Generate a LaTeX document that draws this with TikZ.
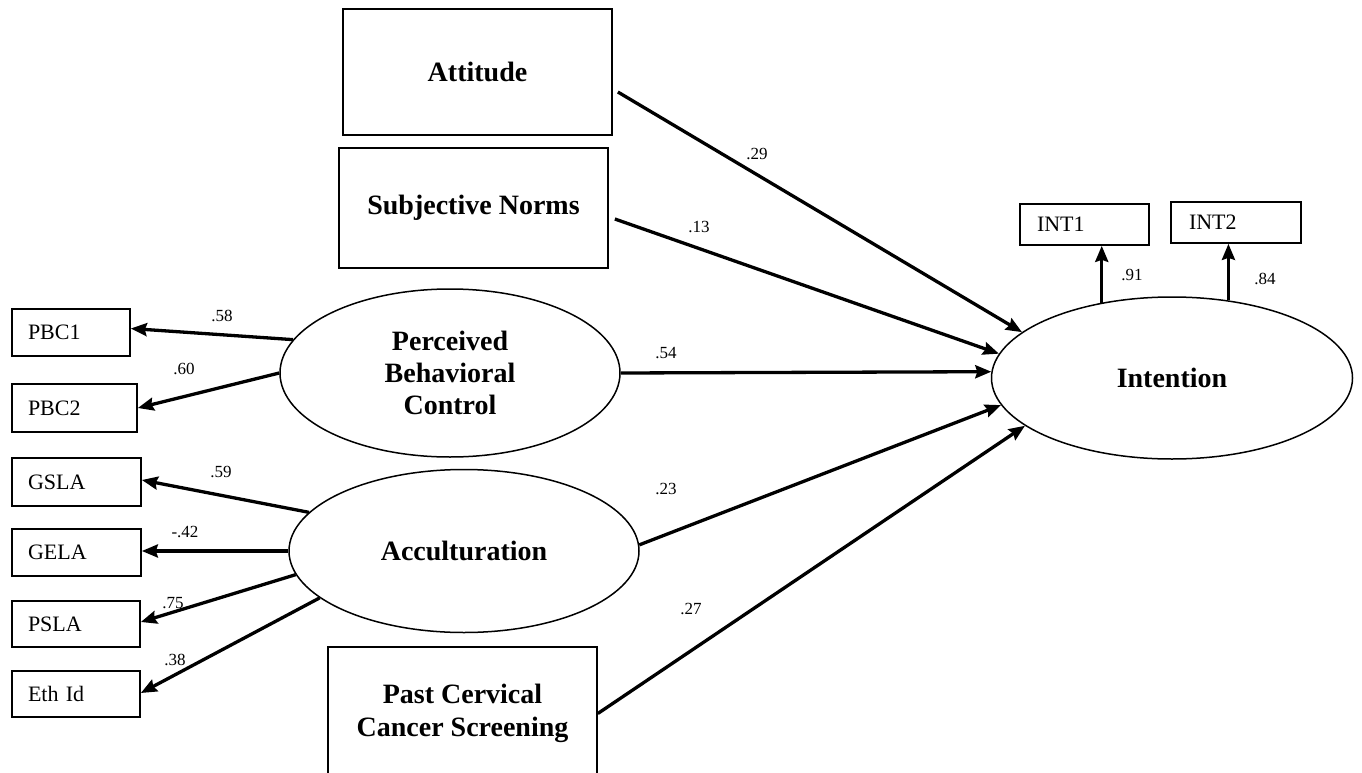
\documentclass[tikz,border=0pt]{standalone}
\usepackage{fontspec}
\setmainfont{Liberation Serif}
\usetikzlibrary{shapes.geometric,arrows.meta,calc}
\tikzset{
  bigbox/.style={draw, line width=1.7pt, rectangle, inner sep=0pt, align=center,
    minimum width=269pt, font=\fontsize{28}{33}\selectfont\bfseries},
  smallbox/.style={draw, line width=1.7pt, rectangle, inner ysep=0pt, align=left,
    font=\fontsize{22}{26}\selectfont},
  latent/.style={draw, line width=1.5pt, ellipse, inner sep=0pt, align=center,
    font=\fontsize{28}{32}\selectfont\bfseries},
  arr/.style={line width=3.3pt, -{Stealth[length=16pt,width=13pt,inset=2pt]}},
  coef/.style={inner sep=0pt, font=\fontsize{17}{20}\selectfont},
}
\begin{document}
\begin{tikzpicture}[x=1pt,y=-1pt]
\useasboundingbox (0,0) rectangle (1362,773);
\clip (0,0) rectangle (1362,773);
% top boxes
\node[bigbox, minimum height=126pt] (att) at (477.5,72) {Attitude};
\node[bigbox, minimum height=120pt] (sn) at (473.5,208) {Subjective Norms};
\node[bigbox, minimum height=133pt] (past) at (462.5,713.5) {Past Cervical\\Cancer Screening};
% latent variables
\node[latent, minimum width=340pt, minimum height=168pt] (pbc) at (450,373) {Perceived\\Behavioral\\Control};
\node[latent, minimum width=350pt, minimum height=163pt] (acc) at (464,551) {Acculturation};
\node[latent, minimum width=361pt, minimum height=162pt] (int) at (1172,378) {Intention};
% indicator boxes
\node[smallbox, inner xsep=16pt, text width=86pt, minimum height=47pt] (pbc1) at (71,332.5) {PBC1};
\node[smallbox, inner xsep=16pt, text width=93pt, minimum height=48pt] (pbc2) at (74.5,408) {PBC2};
\node[smallbox, inner xsep=16pt, text width=97pt, minimum height=48pt] (gsla) at (76.5,482) {GSLA};
\node[smallbox, inner xsep=16pt, text width=97pt, minimum height=47pt] (gela) at (76.5,552.5) {GELA};
\node[smallbox, inner xsep=16pt, text width=96pt, minimum height=46pt] (psla) at (76,624) {PSLA};
\node[smallbox, inner xsep=16pt, text width=96pt, minimum height=46pt] (eth) at (76,694) {Eth Id};
\node[smallbox, inner xsep=17pt, text width=95pt, minimum height=41pt] (int1) at (1084.5,224.5) {INT1};
\node[smallbox, inner xsep=18pt, text width=94pt, minimum height=41pt] (int2) at (1236,222.5) {INT2};
% measurement arrows
\draw[arr] (pbc.168.6) -- ($(pbc1.east)+(0,-4)$);
\draw[arr] (pbc.180) -- (pbc2.east);
\draw[arr] (acc.166.3) -- ($(gsla.east)+(0,-2)$);
\draw[arr] (acc.180) -- ($(gela.east)+(0,-1.5)$);
\draw[arr] (acc.188.2) -- ($(psla.east)+(0,-2)$);
\draw[arr] (acc.198.9) -- ($(eth.east)+(0,-1)$);
\draw[arr] (int.133.1) -- (int.133.1 |- int1.south);
\draw[arr] (int.54.5) -- (int.54.5 |- int2.south);
% structural arrows
\draw[arr] ($(att.east)+(5,20)$) -- (int.163.2);
\draw[arr] ($(sn.east)+(6,11)$) -- (int.172.4);
\draw[arr] (pbc.east) -- (int.178.6);
\draw[arr] (acc.2) -- (int.189.7);
\draw[arr] (past.east) -- (int.198.2);
% coefficients
\node[coef] (c58) at (222,316) {.58};
\node[coef] (c60) at (184,369) {.60};
\node[coef] (c59) at (221,472) {.59};
\node[coef] (c42) at (185,532) {-.42};
\node[coef] (c75) at (173,603) {.75};
\node[coef] (c38) at (175,660) {.38};
\node[coef] (c91) at (1132,275) {.91};
\node[coef] (c84) at (1265,279) {.84};
\node[coef] (c29) at (757,154) {.29};
\node[coef] (c13) at (699,227) {.13};
\node[coef] (c54) at (666,353) {.54};
\node[coef] (c23) at (666,489) {.23};
\node[coef] (c27) at (691,609) {.27};
\end{tikzpicture}
\end{document}
